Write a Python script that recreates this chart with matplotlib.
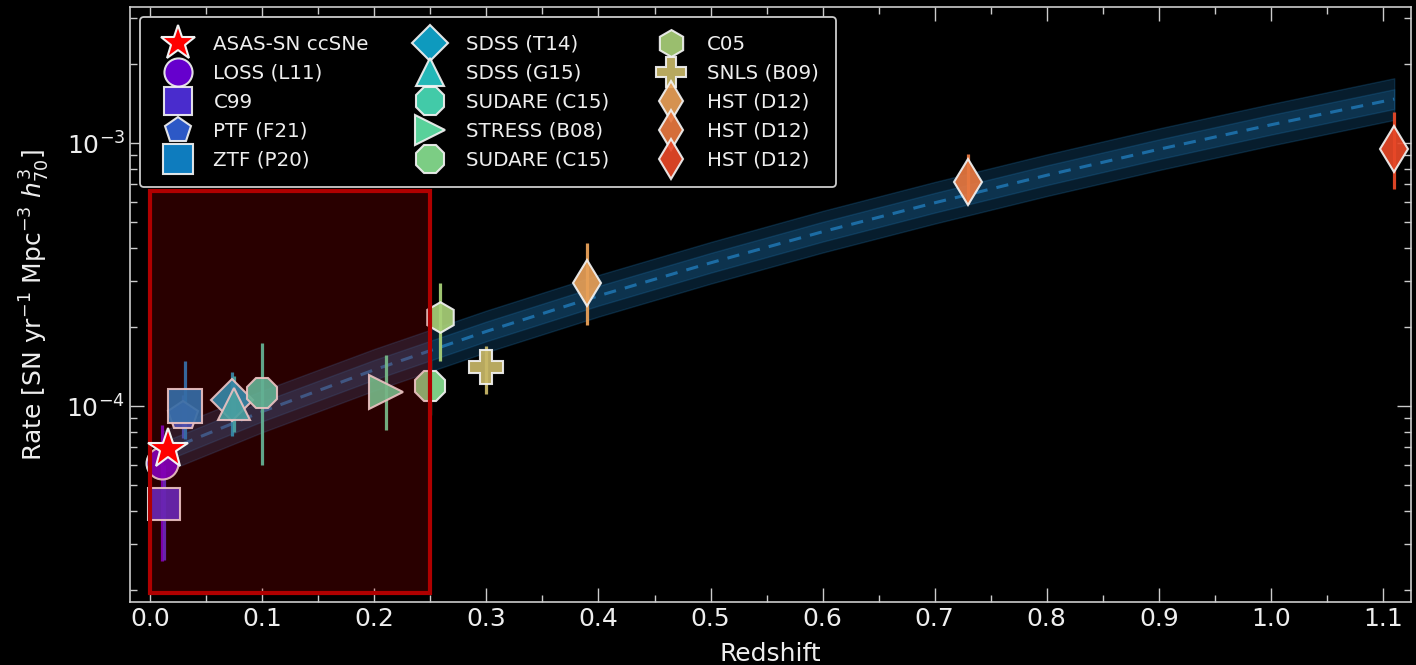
import matplotlib
matplotlib.use("Agg")
import matplotlib.pyplot as plt
from matplotlib.patches import Rectangle
from matplotlib.ticker import MultipleLocator, LogLocator, NullFormatter

# ---------------- data ----------------
labels = ["ASAS-SN ccSNe", "LOSS (L11)", "C99", "PTF (F21)", "ZTF (P20)",
          "SDSS (T14)", "SDSS (G15)", "SUDARE (C15)", "STRESS (B08)", "SUDARE (C15)",
          "C05", "SNLS (B09)", "HST (D12)", "HST (D12)", "HST (D12)"]
redshift = [0.016, 0.011, 0.012, 0.029, 0.031,
            0.073, 0.075, 0.100, 0.210, 0.250,
            0.259, 0.300, 0.390, 0.730, 1.110]
rate = [6.9e-5, 6.1e-5, 4.26e-5, 9.2e-5, 1.0e-4,
        1.054e-4, 1.02e-4, 1.12e-4, 1.13e-4, 1.19e-4,
        2.19e-4, 1.41e-4, 2.94e-4, 7.1e-4, 9.5e-4]
rate_lo = [6.9e-5, 2.58e-5, 2.6e-5, 7.6e-5, 7.5e-5,
           7.7e-5, 8.0e-5, 5.96e-5, 8.1e-5, 9.3e-5,
           1.49e-4, 1.11e-4, 2.04e-4, 5.9e-4, 6.73e-4]
rate_hi = [6.9e-5, 8.5e-5, 6.0e-5, 1.1e-4, 1.49e-4,
           1.35e-4, 1.30e-4, 1.74e-4, 1.57e-4, 1.50e-4,
           2.95e-4, 1.69e-4, 4.19e-4, 9.1e-4, 1.31e-3]

fit_z = [0.01, 0.1, 0.2, 0.3, 0.4, 0.5, 0.6, 0.7, 0.8, 0.9, 1.0, 1.11]
fit_rate = [6.67e-5, 9.55e-5, 1.376e-4, 1.926e-4, 2.63e-4, 3.51e-4,
            4.61e-4, 5.94e-4, 7.56e-4, 9.49e-4, 1.176e-3, 1.473e-3]
fit_lo1 = [6.12e-5, 8.76e-5, 1.262e-4, 1.767e-4, 2.413e-4, 3.220e-4,
           4.229e-4, 5.450e-4, 6.936e-4, 8.706e-4, 1.079e-3, 1.351e-3]
fit_hi1 = [7.27e-5, 1.041e-4, 1.500e-4, 2.099e-4, 2.867e-4, 3.826e-4,
           5.025e-4, 6.475e-4, 8.240e-4, 1.034e-3, 1.282e-3, 1.606e-3]
fit_lo2 = [5.56e-5, 7.96e-5, 1.147e-4, 1.605e-4, 2.192e-4, 2.925e-4,
           3.842e-4, 4.950e-4, 6.300e-4, 7.908e-4, 9.80e-4, 1.228e-3]
fit_hi2 = [8.0e-5, 1.146e-4, 1.651e-4, 2.311e-4, 3.156e-4, 4.212e-4,
           5.532e-4, 7.128e-4, 9.072e-4, 1.139e-3, 1.411e-3, 1.768e-3]

# highlighted region (redshift range, rate range)
box_z = (0.0, 0.25)
box_rate = (1.95e-5, 6.56e-4)

# ---------------- styles ----------------
colors = ["#ff0000", "#7000e0", "#5030e0", "#3060d8", "#1088d0",
          "#10a8d0", "#28c8c8", "#48dcb8", "#60e4a8", "#88e090",
          "#a8d078", "#c8b868", "#e8a058", "#e87840", "#e84828"]
markers = ["*", "o", "s", "p", "s", "D", "^", "8", ">", "8", "h", "P", "d", "d", "d"]
msizes = [30, 23, 23, 22, 24, 21, 23, 24, 24, 24, 22, 24, 23, 23, 23]

txt = "#eeeeee"
fig = plt.figure(figsize=(14.16, 6.65), dpi=100, facecolor="black")
ax = fig.add_axes([0.0918, 0.0947, 0.9047, 0.8948])
ax.set_facecolor("black")

# fit band
ax.fill_between(fit_z, fit_lo2, fit_hi2, color="#1f77b4", alpha=0.25, lw=1.0, zorder=1)
ax.fill_between(fit_z, fit_lo1, fit_hi1, color="#1f77b4", alpha=0.25, lw=1.0, zorder=1)
ax.plot(fit_z, fit_rate, ls=(0, (4, 3)), color="#1f77b4", lw=2.2, alpha=0.85, zorder=2)

# data points
for i in range(len(labels)):
    lo = rate[i] - rate_lo[i]
    hi = rate_hi[i] - rate[i]
    if lo > 0 or hi > 0:
        ax.errorbar([redshift[i]], [rate[i]], yerr=[[lo], [hi]], fmt="none",
                    ecolor=colors[i], elinewidth=2.3, capsize=0, alpha=0.95, zorder=3)
    ax.plot([redshift[i]], [rate[i]], ls="none", marker=markers[i], ms=msizes[i],
            mfc=colors[i], mec="#f2f2f2", mew=1.5, alpha=0.92 if i else 1.0,
            zorder=6 if i == 0 else 4, label=labels[i])

# highlight box
ax.add_patch(Rectangle((box_z[0], box_rate[0]), box_z[1] - box_z[0],
                       box_rate[1] - box_rate[0],
                       facecolor=(0.82, 0.0, 0.0, 0.2), edgecolor="#b00000",
                       lw=3.0, zorder=5))

ax.set_yscale("log")
ax.set_xlim(-0.018, 1.125)
ax.set_ylim(1.8e-5, 3.3e-3)
ax.xaxis.set_major_locator(MultipleLocator(0.1))
ax.xaxis.set_minor_locator(MultipleLocator(0.05))
ax.yaxis.set_minor_locator(LogLocator(base=10, subs=range(2, 10)))
ax.yaxis.set_minor_formatter(NullFormatter())
ax.set_xticks([0.0, 0.1, 0.2, 0.3, 0.4, 0.5, 0.6, 0.7, 0.8, 0.9, 1.0, 1.1])
ax.set_xticklabels(["0.0", "0.1", "0.2", "0.3", "0.4", "0.5", "0.6", "0.7",
                    "0.8", "0.9", "1.0", "1.1"])

ax.tick_params(which="both", direction="in", top=True, right=True,
               colors="#cccccc", labelcolor=txt, labelsize=18)
ax.tick_params(which="major", length=10, width=1.0)
ax.tick_params(which="minor", length=5, width=1.0)
for s in ax.spines.values():
    s.set_color("#cccccc")
    s.set_linewidth(1.2)

ax.set_xlabel("Redshift", color=txt, fontsize=18, labelpad=8)
ax.set_ylabel(r"Rate [SN yr$^{-1}$ Mpc$^{-3}$ $h_{70}^3$]", color=txt, fontsize=18,
              labelpad=10)

leg = ax.legend(ncol=3, loc="upper left", fontsize=14.3, markerscale=0.88,
                labelspacing=0.5, borderpad=0.9, columnspacing=2.1,
                handletextpad=0.8, facecolor="black", edgecolor="#cccccc",
                framealpha=1.0, numpoints=1)
leg.get_frame().set_linewidth(1.3)
for t in leg.get_texts():
    t.set_color(txt)
leg.set_zorder(10)

fig.savefig("out.png", dpi=100, facecolor="black")
